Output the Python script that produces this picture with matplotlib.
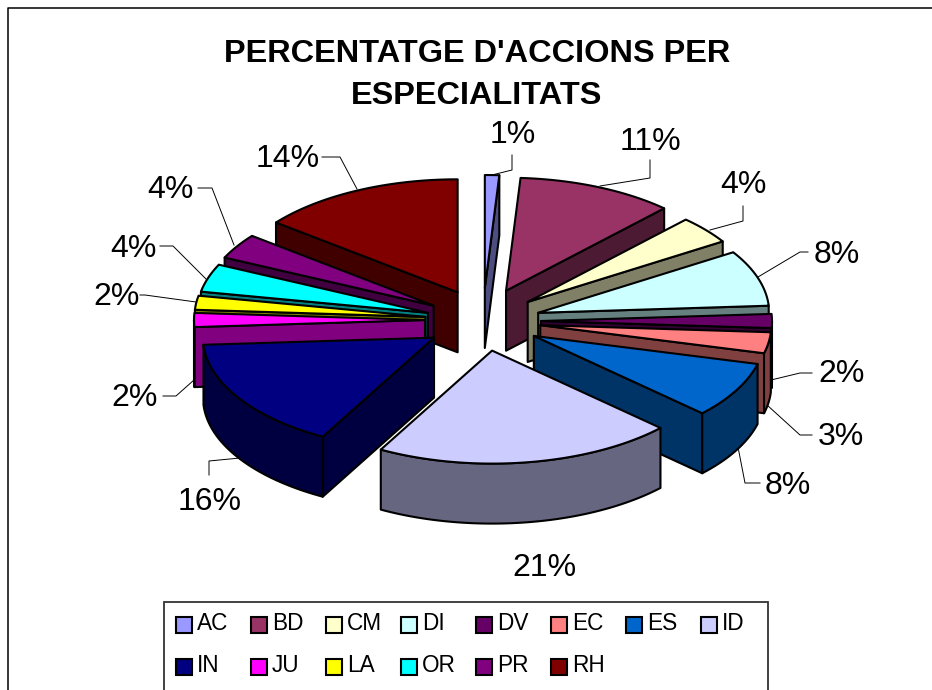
# pastis 3D fet a ma: matplotlib no en te
import numpy as np
import matplotlib
matplotlib.use('Agg')
import matplotlib.pyplot as plt
from matplotlib.colors import to_rgb
from matplotlib.patches import Polygon, Rectangle

labels = ['AC', 'BD', 'CM', 'DI', 'DV', 'EC', 'ES', 'ID', 'IN', 'JU', 'LA', 'OR', 'PR', 'RH']
values = [1, 11, 4, 8, 2, 3, 8, 21, 16, 2, 2, 4, 3.6, 14.4]
colors = ['#9999FF', '#993366', '#FFFFCC', '#CCFFFF', '#660066', '#FF8080', '#0066CC',
          '#CCCCFF', '#000080', '#FF00FF', '#FFFF00', '#00FFFF', '#800080', '#800000']

plt.rcParams['font.family'] = ['Liberation Sans', 'DejaVu Sans']

# eixos en pixels de la imatge
fig = plt.figure(figsize=(9.32, 6.90), dpi=100)
ax = fig.add_axes([0, 0, 1, 1])
ax.set_xlim(0, 932)
ax.set_ylim(690, 0)
ax.axis('off')

# geometria del pastis
cx, cy = 483, 318
rx, ry = 231, 113
ex, ey = 58, 33
depth = 60
lw = 1.5
# correccio vertical de cada tros (perspectiva de l'original)
nudge = [3, 3, 5, 5, 3, 2, 2, 0, 2, 2, 3, 5, 5, 4]


def ell(a, ox, oy):
    return ox + rx * np.sin(a), oy - ry * np.cos(a)


edges = np.radians(np.cumsum([0] + values) * 3.6)
order = np.argsort([-np.cos((edges[i] + edges[i + 1]) / 2) for i in range(len(values))])

for z, i in enumerate(order):
    a1, a2 = edges[i], edges[i + 1]
    mid = (a1 + a2) / 2
    ox = cx + ex * np.sin(mid)
    oy = cy - ey * np.cos(mid) + nudge[i]
    top = to_rgb(colors[i])
    side = tuple(c * 0.5 for c in top)
    z0 = 10 + z * 3

    # parets rectes, nomes si miren cap a l'espectador
    mx, my = ell(mid, ox, oy)
    for a in (a1, a2):
        px, py = ell(a, ox, oy)
        inner = (px - ox) * (my - oy) - (py - oy) * (mx - ox)
        down = (px - ox) * depth
        if inner * down < 0:
            ax.add_patch(Polygon([(ox, oy), (px, py), (px, py + depth), (ox, oy + depth)],
                                 fc=side, ec='k', lw=lw, zorder=z0, joinstyle='round'))

    # paret corba, la part de davant
    b1, b2 = max(a1, np.pi / 2), min(a2, 3 * np.pi / 2)
    if b2 > b1:
        t = np.linspace(b1, b2, 60)
        xs, ys = ell(t, ox, oy)
        pts = np.r_[np.c_[xs, ys], np.c_[xs, ys + depth][::-1]]
        ax.add_patch(Polygon(pts, fc=side, ec='k', lw=lw, zorder=z0 + 1, joinstyle='round'))

    # tapa
    t = np.linspace(a1, a2, 80)
    xs, ys = ell(t, ox, oy)
    pts = np.r_[[(ox, oy)], np.c_[xs, ys]]
    ax.add_patch(Polygon(pts, fc=top, ec='k', lw=lw, zorder=z0 + 2, joinstyle='round'))

# etiquetes i linies guia
label_pos = [(513, 135), (650, 142), (743, 185), (837, 255), (842, 374), (841, 437), (788, 486),
             (544, 568), (210, 502), (135, 398), (117, 297), (133, 249), (170, 190), (288, 159)]
leaders = [[(492, 175), (512, 170), (512, 155)],
           [(600, 186), (650, 178), (650, 160)],
           [(710, 230), (743, 221), (743, 206)],
           [(758, 277), (800, 252), (808, 252)],
           [(771, 380), (800, 373), (812, 373)],
           [(767, 405), (800, 435), (812, 435)],
           [(738, 447), (745, 483), (760, 483)],
           None,
           [(240, 458), (209, 461), (209, 475)],
           [(194, 380), (176, 396), (163, 396)],
           [(196, 302), (145, 295), (140, 295)],
           [(206, 279), (173, 246), (160, 246)],
           [(234, 245), (212, 188), (198, 188)],
           [(357, 189), (340, 157), (322, 157)]]

for v, pos, line in zip(values, label_pos, leaders):
    ax.text(pos[0], pos[1], f'{v:.0f}%', fontsize=23, ha='center', va='center', zorder=100)
    if line is not None:
        ax.plot(*zip(*line), color='k', lw=0.7, zorder=5)

# titol
ax.text(477, 54, "PERCENTATGE D'ACCIONS PER", fontsize=23.4, fontweight='bold', ha='center', va='center')
ax.text(477, 96, 'ESPECIALITATS', fontsize=23.4, fontweight='bold', ha='center', va='center')

# marc exterior: nomes dalt i a l'esquerra, la resta queda fora de la imatge
ax.plot([8, 8, 932], [700, 8, 8], color='k', lw=1.1)

# llegenda, es talla per baix com a l'original
ax.add_patch(Rectangle((164, 602), 604, 110, fc='white', ec='#333333', lw=1.3, zorder=50))
pitch = 75
for k, (name, col) in enumerate(zip(labels, colors)):
    row, c = divmod(k, 8)
    x = 176 + c * pitch
    y = 624.5 + row * 42
    ax.add_patch(Rectangle((x, y - 8), 16, 16, fc=col, ec='k', lw=1.5, zorder=51))
    ax.text(x + 21, y - 1, name, fontsize=16.3, ha='left', va='center', zorder=51)

fig.savefig('out.png', dpi=100)
